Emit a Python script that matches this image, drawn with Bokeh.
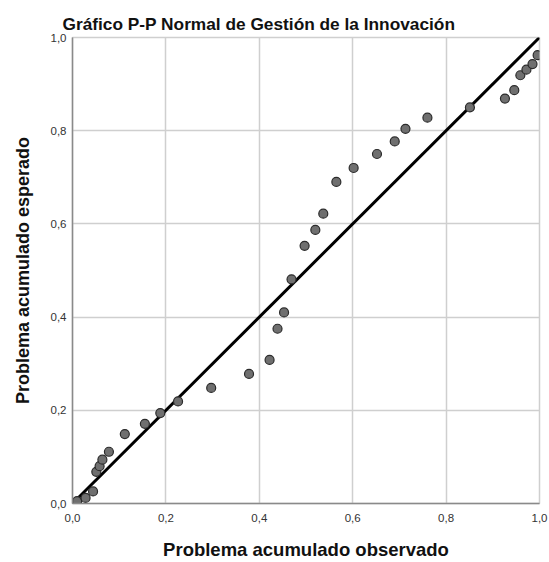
from bokeh.plotting import figure
from bokeh.embed import file_html
from bokeh.resources import INLINE
from bokeh.models import FixedTicker

observed = [0.010, 0.028, 0.044, 0.051, 0.058, 0.064, 0.078, 0.112, 0.155, 0.188,
            0.226, 0.297, 0.378, 0.422, 0.439, 0.453, 0.469, 0.497, 0.520, 0.537,
            0.565, 0.602, 0.652, 0.690, 0.713, 0.760, 0.851, 0.926, 0.946, 0.959,
            0.972, 0.985, 0.996]
expected = [0.005, 0.012, 0.026, 0.068, 0.080, 0.094, 0.111, 0.149, 0.171, 0.194,
            0.219, 0.248, 0.278, 0.308, 0.375, 0.410, 0.481, 0.553, 0.587, 0.622,
            0.690, 0.720, 0.750, 0.777, 0.804, 0.828, 0.850, 0.869, 0.887, 0.919,
            0.931, 0.943, 0.962]
ref_line_x = [0.0, 1.0]
ref_line_y = [0.0, 1.0]
tick_values = [0.0, 0.2, 0.4, 0.6, 0.8, 1.0]
tick_labels = ["0,0", "0,2", "0,4", "0,6", "0,8", "1,0"]

title_text = "Gráfico P-P Normal de Gestión de la Innovación"
x_title = "Problema acumulado observado"
y_title = "Problema acumulado esperado"

FONT = "Liberation Sans"

p = figure(width=549, height=562, x_range=(0, 1), y_range=(0, 1),
           output_backend="svg", toolbar_location=None,
           min_border_left=72, min_border_right=10, min_border_top=37, min_border_bottom=58,
           title=title_text)

p.title.text_font = FONT
p.title.text_font_size = "17.3px"
p.title.text_font_style = "bold"
p.title.text_color = "#111111"
p.title.align = "left"
p.title.offset = -10
p.title.standoff = 7

p.background_fill_color = "white"
p.border_fill_color = "white"
p.outline_line_color = "#cfcfcf"
p.outline_line_width = 1.5

overrides = {v: s for v, s in zip(tick_values, tick_labels)}
for ax in (p.xaxis[0], p.yaxis[0]):
    ax.ticker = FixedTicker(ticks=tick_values)
    ax.major_label_overrides = overrides
    ax.major_tick_line_color = None
    ax.minor_tick_line_color = None
    ax.axis_line_color = "#8a8a8a"
    ax.axis_line_width = 1.5
    ax.major_label_text_font = FONT
    ax.major_label_text_font_size = "11.5px"
    ax.major_label_text_color = "#333333"
    ax.axis_label_text_font = FONT
    ax.axis_label_text_font_style = "bold"
    ax.axis_label_text_color = "#111111"

p.xaxis[0].axis_label = x_title
p.yaxis[0].axis_label = y_title
p.xaxis[0].axis_label_text_font_size = "18.5px"
p.yaxis[0].axis_label_text_font_size = "18px"
p.xaxis[0].major_label_standoff = 4
p.yaxis[0].major_label_standoff = 0
p.xaxis[0].axis_label_standoff = 14
p.yaxis[0].axis_label_standoff = 15

for g in (p.xgrid[0], p.ygrid[0]):
    g.ticker = FixedTicker(ticks=tick_values)
    g.grid_line_color = "#cfcfcf"
    g.grid_line_width = 1.5

p.line(ref_line_x, ref_line_y, line_color="black", line_width=3)
p.scatter(observed, expected, size=9, fill_color="#6f6f6f", line_color="#2b2b2b",
          line_width=1.2)

open("out.html", "w").write(file_html(p, INLINE))
